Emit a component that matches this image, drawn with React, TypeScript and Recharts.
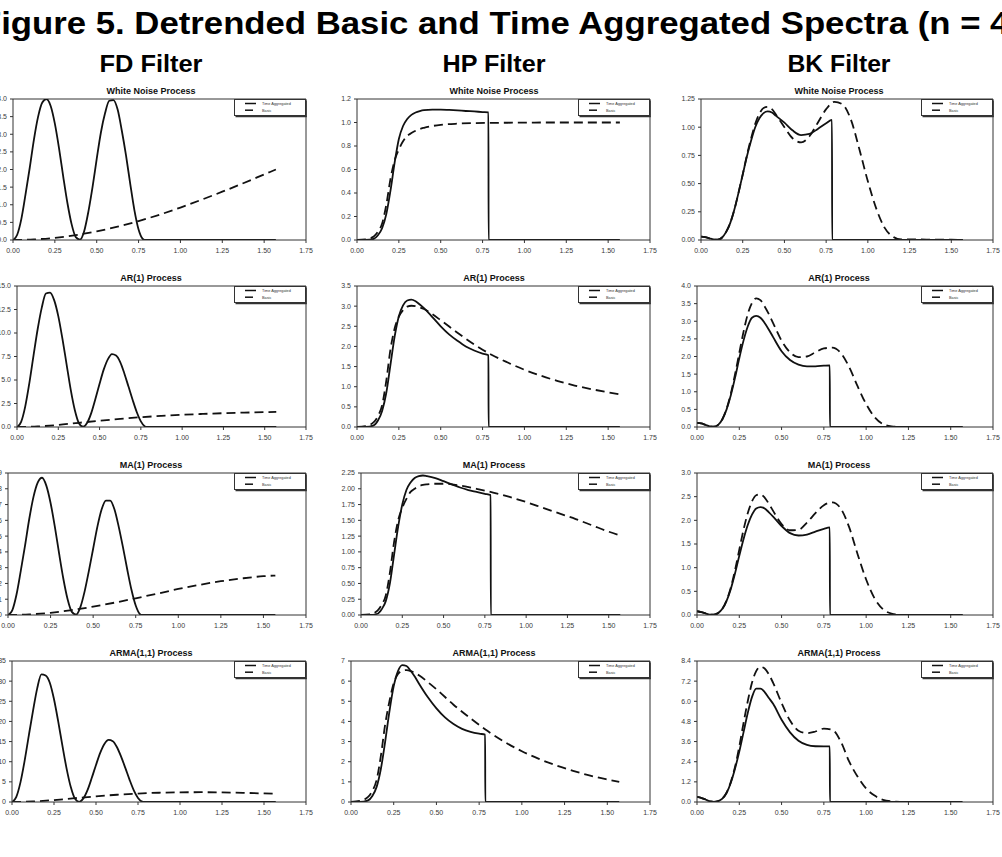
import React from 'react';
import { LineChart, Line, XAxis, YAxis, ReferenceLine } from 'recharts';

// Figure 5 - detrended basic vs time aggregated spectra, 3 filters x 4 processes

const X_TICKS = [0, 0.25, 0.5, 0.75, 1, 1.25, 1.5, 1.75];

// ---- FD filter ----
const FD_X = [0, 0.025, 0.05, 0.075, 0.1, 0.125, 0.15, 0.175, 0.2, 0.225, 0.25, 0.275, 0.3, 0.325, 0.35, 0.375, 0.4, 0.425, 0.45, 0.475, 0.5, 0.525, 0.55, 0.575, 0.6, 0.625, 0.65, 0.675, 0.7, 0.725, 0.75, 0.775, 0.785, 1.57];
const fdWnTa = [0, 0.15, 0.6, 1.3, 2.05, 2.85, 3.5, 3.9, 4.0, 3.8, 3.3, 2.6, 1.8, 1.05, 0.45, 0.08, 0.01, 0.25, 0.8, 1.5, 2.3, 3.05, 3.6, 3.95, 3.97, 3.7, 3.1, 2.4, 1.6, 0.85, 0.3, 0.03, 0, 0];
const fdArTa = [0, 0.55, 2.2, 4.7, 7.6, 10.4, 12.7, 14.2, 14.3, 13.5, 11.8, 9.4, 6.7, 4.0, 1.8, 0.4, 0.03, 0.45, 1.5, 3.0, 4.6, 6.1, 7.2, 7.75, 7.6, 6.9, 5.7, 4.3, 2.9, 1.6, 0.6, 0.05, 0, 0];
const fdMaTa = [0, 0.3, 1.3, 2.8, 4.4, 6.1, 7.5, 8.4, 8.7, 8.2, 7.1, 5.6, 3.9, 2.3, 1.0, 0.2, 0.02, 0.5, 1.5, 2.8, 4.2, 5.6, 6.7, 7.25, 7.25, 6.7, 5.6, 4.3, 2.9, 1.6, 0.6, 0.05, 0, 0];
const fdArmaTa = [0, 1.2, 4.8, 10.2, 16.5, 22.6, 28.2, 31.7, 31.4, 29.6, 25.5, 20, 14, 8.3, 3.7, 0.8, 0.05, 0.9, 3.0, 6.0, 9.2, 12.2, 14.4, 15.4, 15.1, 13.6, 11.2, 8.4, 5.5, 2.9, 1.0, 0.08, 0, 0];
const FD_BASIC_X = [0, 0.125, 0.25, 0.375, 0.5, 0.625, 0.75, 0.875, 1, 1.125, 1.25, 1.375, 1.5, 1.57];
const fdWnBasic = [0, 0.016, 0.062, 0.139, 0.245, 0.378, 0.537, 0.718, 0.92, 1.14, 1.37, 1.61, 1.86, 2.0];
const fdArBasic = [0, 0.06, 0.22, 0.45, 0.66, 0.86, 1.04, 1.18, 1.3, 1.39, 1.47, 1.53, 1.58, 1.6];
const fdMaBasic = [0, 0.04, 0.14, 0.31, 0.53, 0.78, 1.06, 1.35, 1.65, 1.91, 2.14, 2.32, 2.46, 2.5];
const fdArmaBasic = [0, 0.13, 0.48, 0.95, 1.4, 1.8, 2.1, 2.3, 2.4, 2.43, 2.38, 2.28, 2.12, 2.05];

// ---- HP filter ----
const HP_TA_X = [0, 0.05, 0.1, 0.125, 0.15, 0.175, 0.2, 0.225, 0.25, 0.275, 0.3, 0.325, 0.35, 0.375, 0.4, 0.45, 0.5, 0.55, 0.6, 0.65, 0.7, 0.75, 0.785, 0.786, 1.57];
const hpWnTa = [0, 0, 0.01, 0.04, 0.1, 0.22, 0.42, 0.66, 0.86, 0.97, 1.03, 1.065, 1.085, 1.097, 1.105, 1.11, 1.11, 1.107, 1.103, 1.098, 1.094, 1.089, 1.086, 0, 0];
const hpArTa = [0, 0, 0.04, 0.16, 0.4, 0.85, 1.55, 2.25, 2.75, 3.02, 3.14, 3.16, 3.12, 3.04, 2.95, 2.73, 2.5, 2.3, 2.14, 2.0, 1.9, 1.82, 1.78, 0, 0];
const hpMaTa = [0, 0, 0.02, 0.09, 0.22, 0.5, 0.95, 1.4, 1.75, 1.98, 2.1, 2.17, 2.2, 2.21, 2.2, 2.17, 2.12, 2.07, 2.02, 1.98, 1.95, 1.92, 1.9, 0, 0];
const hpArmaTa = [0, 0, 0.08, 0.3, 0.75, 1.65, 3.0, 4.5, 5.75, 6.5, 6.8, 6.75, 6.5, 6.2, 5.85, 5.2, 4.65, 4.2, 3.87, 3.63, 3.48, 3.39, 3.35, 0, 0];
const HP_BASIC_X = [0, 0.05, 0.1, 0.125, 0.15, 0.175, 0.2, 0.225, 0.25, 0.275, 0.3, 0.325, 0.35, 0.375, 0.4, 0.45, 0.5, 0.6, 0.7, 0.8, 0.9, 1, 1.1, 1.2, 1.3, 1.4, 1.5, 1.57];
const hpWnBasic = [0, 0.005, 0.03, 0.07, 0.14, 0.3, 0.52, 0.68, 0.77, 0.84, 0.885, 0.91, 0.93, 0.945, 0.955, 0.97, 0.98, 0.99, 0.995, 0.997, 0.998, 0.999, 1, 1, 1, 1, 1, 1];
const hpArBasic = [0, 0.02, 0.12, 0.27, 0.54, 1.15, 1.93, 2.45, 2.74, 2.9, 2.99, 3.01, 3.0, 2.97, 2.93, 2.8, 2.65, 2.34, 2.05, 1.8, 1.6, 1.42, 1.27, 1.14, 1.03, 0.94, 0.86, 0.81];
const hpMaBasic = [0, 0.01, 0.07, 0.16, 0.31, 0.67, 1.15, 1.5, 1.7, 1.84, 1.95, 2.0, 2.04, 2.06, 2.07, 2.08, 2.08, 2.05, 2.0, 1.94, 1.87, 1.79, 1.7, 1.61, 1.52, 1.42, 1.32, 1.26];
const hpArmaBasic = [0, 0.05, 0.25, 0.55, 1.1, 2.3, 3.85, 5.0, 5.9, 6.35, 6.52, 6.55, 6.5, 6.4, 6.28, 5.95, 5.6, 4.83, 4.15, 3.52, 2.98, 2.52, 2.14, 1.82, 1.55, 1.31, 1.12, 1.0];

// ---- BK filter ----
const BK_TA_X = [0, 0.025, 0.05, 0.075, 0.1, 0.125, 0.15, 0.175, 0.2, 0.225, 0.25, 0.275, 0.3, 0.325, 0.35, 0.375, 0.4, 0.425, 0.45, 0.5, 0.55, 0.6, 0.65, 0.7, 0.75, 0.785, 0.786, 1.57];
const bkWnTa = [0.03, 0.025, 0.015, 0.005, 0.002, 0.02, 0.07, 0.15, 0.27, 0.42, 0.58, 0.74, 0.88, 1.0, 1.08, 1.125, 1.14, 1.13, 1.1, 1.04, 0.97, 0.93, 0.94, 0.985, 1.035, 1.065, 0, 0];
const bkArTa = [0.12, 0.1, 0.06, 0.02, 0.01, 0.06, 0.22, 0.5, 0.9, 1.4, 1.95, 2.45, 2.85, 3.1, 3.15, 3.1, 2.95, 2.76, 2.55, 2.15, 1.9, 1.77, 1.72, 1.72, 1.74, 1.75, 0, 0];
const bkMaTa = [0.08, 0.06, 0.035, 0.01, 0.005, 0.04, 0.13, 0.3, 0.55, 0.88, 1.25, 1.6, 1.9, 2.12, 2.25, 2.28, 2.25, 2.17, 2.08, 1.88, 1.73, 1.68, 1.7, 1.76, 1.82, 1.85, 0, 0];
const bkArmaTa = [0.3, 0.25, 0.15, 0.05, 0.01, 0.05, 0.2, 0.55, 1.15, 2.0, 3.0, 4.15, 5.3, 6.25, 6.75, 6.75, 6.55, 6.2, 5.85, 4.9, 4.15, 3.65, 3.4, 3.32, 3.31, 3.31, 0, 0];
const BK_BASIC_X = [0, 0.025, 0.05, 0.075, 0.1, 0.125, 0.15, 0.175, 0.2, 0.225, 0.25, 0.275, 0.3, 0.325, 0.35, 0.375, 0.4, 0.425, 0.45, 0.5, 0.55, 0.6, 0.65, 0.7, 0.75, 0.8, 0.85, 0.9, 0.95, 1, 1.05, 1.1, 1.15, 1.2, 1.3, 1.4, 1.5, 1.57];
const bkWnBasic = [0.03, 0.025, 0.015, 0.005, 0.002, 0.02, 0.07, 0.15, 0.27, 0.42, 0.58, 0.75, 0.9, 1.03, 1.12, 1.17, 1.18, 1.16, 1.11, 1.0, 0.9, 0.865, 0.92, 1.04, 1.16, 1.225, 1.2, 1.06, 0.8, 0.52, 0.28, 0.11, 0.03, 0.005, 0.006, 0.002, 0.002, 0];
const bkArBasic = [0.12, 0.1, 0.06, 0.02, 0.01, 0.06, 0.22, 0.52, 0.95, 1.5, 2.1, 2.7, 3.2, 3.52, 3.65, 3.6, 3.42, 3.2, 2.95, 2.45, 2.12, 1.98, 2.0, 2.12, 2.23, 2.25, 2.1, 1.7, 1.15, 0.65, 0.28, 0.08, 0.02, 0.005, 0, 0, 0, 0];
const bkMaBasic = [0.08, 0.06, 0.035, 0.01, 0.005, 0.04, 0.13, 0.31, 0.58, 0.95, 1.38, 1.8, 2.15, 2.4, 2.53, 2.55, 2.48, 2.35, 2.2, 1.92, 1.79, 1.8, 1.95, 2.15, 2.32, 2.38, 2.25, 1.85, 1.28, 0.75, 0.35, 0.12, 0.03, 0.005, 0, 0, 0, 0];
const bkArmaBasic = [0.3, 0.25, 0.15, 0.05, 0.01, 0.05, 0.2, 0.55, 1.2, 2.1, 3.3, 4.7, 6.0, 7.1, 7.8, 8.05, 7.95, 7.6, 7.1, 5.9, 4.85, 4.25, 4.1, 4.2, 4.37, 4.3, 3.6, 2.4, 1.5, 0.8, 0.38, 0.13, 0.04, 0.01, 0, 0, 0, 0];

// y ticks per panel
const fdWnTicks = [0, 0.5, 1, 1.5, 2, 2.5, 3, 3.5, 4];
const fdArTicks = [0, 2.5, 5, 7.5, 10, 12.5, 15];
const fdMaTicks = [0, 1, 2, 3, 4, 5, 6, 7, 8, 9];
const fdArmaTicks = [0, 5, 10, 15, 20, 25, 30, 35];
const hpWnTicks = [0, 0.2, 0.4, 0.6, 0.8, 1.0, 1.2];
const hpArTicks = [0, 0.5, 1, 1.5, 2, 2.5, 3, 3.5];
const hpMaTicks = [0, 0.25, 0.5, 0.75, 1, 1.25, 1.5, 1.75, 2, 2.25];
const hpArmaTicks = [0, 1, 2, 3, 4, 5, 6, 7];
const bkWnTicks = [0, 0.25, 0.5, 0.75, 1, 1.25];
const bkArTicks = [0, 0.5, 1, 1.5, 2, 2.5, 3, 3.5, 4];
const bkMaTicks = [0, 0.5, 1, 1.5, 2, 2.5, 3];
const bkArmaTicks = [0, 1.2, 2.4, 3.6, 4.8, 6, 7.2, 8.4];

const PROCESS_TITLES = ['White Noise Process', 'AR(1) Process', 'MA(1) Process', 'ARMA(1,1) Process'];
const FILTER_TITLES = ['FD Filter', 'HP Filter', 'BK Filter'];

const zip = (xs: number[], ys: number[]) => xs.map((x, i) => ({ x, y: ys[i] }));

// layout (px)
const ROW_TOP = [99, 286, 473, 661];
const ROW_BOTTOM = [240, 427, 615, 802];
const COL_RIGHT = [306, 650, 993];
const COL_TITLE_X = [151, 494, 839];
const PLOT_LEFT = [
  [13, 17, 8, 12],
  [357, 357, 361, 351],
  [701, 697, 697, 697],
];

const FONT = '"Liberation Sans", Arial, Helvetica, sans-serif';
const INK = '#111';
const AXIS = '#333';

type PanelDef = {
  ta: { x: number; y: number }[];
  basic: { x: number; y: number }[];
  ticks: number[];
  dec: number;
};

const panels: PanelDef[][] = [
  [
    { ta: zip(FD_X, fdWnTa), basic: zip(FD_BASIC_X, fdWnBasic), ticks: fdWnTicks, dec: 1 },
    { ta: zip(FD_X, fdArTa), basic: zip(FD_BASIC_X, fdArBasic), ticks: fdArTicks, dec: 1 },
    { ta: zip(FD_X, fdMaTa), basic: zip(FD_BASIC_X, fdMaBasic), ticks: fdMaTicks, dec: 0 },
    { ta: zip(FD_X, fdArmaTa), basic: zip(FD_BASIC_X, fdArmaBasic), ticks: fdArmaTicks, dec: 0 },
  ],
  [
    { ta: zip(HP_TA_X, hpWnTa), basic: zip(HP_BASIC_X, hpWnBasic), ticks: hpWnTicks, dec: 1 },
    { ta: zip(HP_TA_X, hpArTa), basic: zip(HP_BASIC_X, hpArBasic), ticks: hpArTicks, dec: 1 },
    { ta: zip(HP_TA_X, hpMaTa), basic: zip(HP_BASIC_X, hpMaBasic), ticks: hpMaTicks, dec: 2 },
    { ta: zip(HP_TA_X, hpArmaTa), basic: zip(HP_BASIC_X, hpArmaBasic), ticks: hpArmaTicks, dec: 0 },
  ],
  [
    { ta: zip(BK_TA_X, bkWnTa), basic: zip(BK_BASIC_X, bkWnBasic), ticks: bkWnTicks, dec: 2 },
    { ta: zip(BK_TA_X, bkArTa), basic: zip(BK_BASIC_X, bkArBasic), ticks: bkArTicks, dec: 1 },
    { ta: zip(BK_TA_X, bkMaTa), basic: zip(BK_BASIC_X, bkMaBasic), ticks: bkMaTicks, dec: 1 },
    { ta: zip(BK_TA_X, bkArmaTa), basic: zip(BK_BASIC_X, bkArmaBasic), ticks: bkArmaTicks, dec: 1 },
  ],
];

const Y_AXIS_W = 40;
const X_AXIS_H = 20;
const PAD = 5;
const PAD_RIGHT = 14;

function LegendBox({ left, top }: { left: number; top: number }) {
  return (
    <svg style={{ position: 'absolute', left, top, overflow: 'visible' }} width={74} height={19}>
      <rect x={0.5} y={0.5} width={71} height={16} fill="#fff" stroke={AXIS} strokeWidth={1} />
      <line x1={72.2} y1={1.5} x2={72.2} y2={17.6} stroke={AXIS} strokeWidth={1.2} />
      <line x1={1.5} y1={17.6} x2={72.8} y2={17.6} stroke={AXIS} strokeWidth={1.2} />
      <line x1={11} y1={4.5} x2={22} y2={4.5} stroke={INK} strokeWidth={1.5} />
      <line x1={11} y1={11.2} x2={19} y2={11.2} stroke={INK} strokeWidth={1.5} />
      <text x={28} y={6} fontSize={3.8} fill="#333" fontFamily={FONT}>Time Aggregated</text>
      <text x={28} y={12.6} fontSize={3.8} fill="#333" fontFamily={FONT}>Basic</text>
    </svg>
  );
}

function Panel({ def, left, top, right, bottom }: { def: PanelDef; left: number; top: number; right: number; bottom: number }) {
  const width = Y_AXIS_W + (right - left) + PAD_RIGHT;
  const height = PAD + (bottom - top) + X_AXIS_H;
  const yMax = def.ticks[def.ticks.length - 1];
  const tickStyle = { fontSize: 7, fill: '#3a3a3a', fontFamily: FONT };
  return (
    <div style={{ position: 'absolute', left: left - Y_AXIS_W, top: top - PAD, width, height }}>
      <LineChart width={width} height={height} margin={{ top: PAD, right: PAD_RIGHT, left: 0, bottom: 0 }}>
        <XAxis
          type="number"
          dataKey="x"
          domain={[0, 1.75]}
          ticks={X_TICKS}
          interval={0}
          tickFormatter={(v: number) => v.toFixed(2)}
          tickSize={3}
          tickMargin={5}
          height={X_AXIS_H}
          stroke={AXIS}
          tick={tickStyle}
          allowDataOverflow
        />
        <YAxis
          type="number"
          domain={[0, yMax]}
          ticks={def.ticks}
          interval={0}
          tickFormatter={(v: number) => v.toFixed(def.dec)}
          tickSize={3}
          tickMargin={3}
          width={Y_AXIS_W}
          stroke={AXIS}
          tick={tickStyle}
          allowDataOverflow
        />
        <ReferenceLine y={yMax} stroke={AXIS} />
        <ReferenceLine x={1.75} stroke={AXIS} />
        <Line
          data={def.basic}
          dataKey="y"
          type="monotone"
          stroke={INK}
          strokeWidth={1.8}
          strokeDasharray="9 5"
          dot={false}
          activeDot={false}
          isAnimationActive={false}
        />
        <Line
          data={def.ta}
          dataKey="y"
          type="monotone"
          stroke={INK}
          strokeWidth={1.8}
          dot={false}
          activeDot={false}
          isAnimationActive={false}
        />
      </LineChart>
      <LegendBox left={right - 72 - (left - Y_AXIS_W)} top={PAD} />
    </div>
  );
}

export default function App() {
  return (
    <div
      style={{
        position: 'absolute',
        left: 0,
        top: 0,
        width: 1002,
        height: 857,
        overflow: 'hidden',
        background: '#fff',
        fontFamily: FONT,
      }}
    >
      {panels.map((col, c) =>
        col.map((def, r) => (
          <Panel
            key={`${c}-${r}`}
            def={def}
            left={PLOT_LEFT[c][r]}
            top={ROW_TOP[r]}
            right={COL_RIGHT[c]}
            bottom={ROW_BOTTOM[r]}
          />
        ))
      )}
      <svg
        width={1002}
        height={857}
        style={{ position: 'absolute', left: 0, top: 0, pointerEvents: 'none' }}
      >
        <text
          x={-20}
          y={34}
          fontSize={31}
          fontWeight="bold"
          fontFamily={FONT}
          fill="#000"
          textLength={1041}
          lengthAdjust="spacingAndGlyphs"
        >
          Figure 5. Detrended Basic and Time Aggregated Spectra (n = 4)
        </text>
        {FILTER_TITLES.map((t, c) => (
          <text
            key={t}
            x={COL_TITLE_X[c]}
            y={72}
            fontSize={24}
            fontWeight="bold"
            fontFamily={FONT}
            textAnchor="middle"
            textLength={103}
            lengthAdjust="spacingAndGlyphs"
            fill="#000"
          >
            {t}
          </text>
        ))}
        {FILTER_TITLES.map((_, c) =>
          PROCESS_TITLES.map((t, r) => (
            <text
              key={`${c}-${t}`}
              x={COL_TITLE_X[c]}
              y={ROW_TOP[r] - 5}
              fontSize={9}
              fontWeight="bold"
              fontFamily={FONT}
              textAnchor="middle"
              fill="#111"
            >
              {t}
            </text>
          ))
        )}
      </svg>
    </div>
  );
}
